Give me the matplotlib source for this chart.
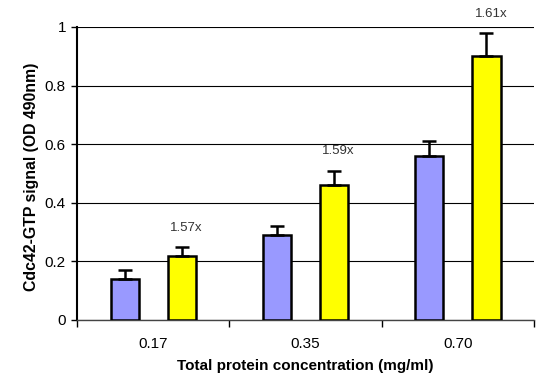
import matplotlib
matplotlib.use("Agg")
import matplotlib.pyplot as plt
import numpy as np

plt.rcParams["font.family"] = ["Liberation Sans", "DejaVu Sans"]

categories = ["0.17", "0.35", "0.70"]
control = [0.14, 0.29, 0.56]
control_err = [0.03, 0.03, 0.05]
treated = [0.22, 0.46, 0.90]
treated_err = [0.03, 0.05, 0.08]
fold = ["1.57x", "1.59x", "1.61x"]
fold_y = [0.315, 0.578, 1.045]

BLUE = "#9999ff"
YELLOW = "#ffff00"

fig = plt.figure(figsize=(5.54, 3.84), dpi=100)
fig.patch.set_facecolor("white")
ax = fig.add_axes([0.139, 0.1667, 0.825, 0.763])

x = np.arange(len(categories))
off, w = 0.1875, 0.185

ax.bar(x - off, control, w, color=BLUE, edgecolor="black", linewidth=1.8, zorder=3)
ax.bar(x + off, treated, w, color=YELLOW, edgecolor="black", linewidth=1.8, zorder=3)
ax.errorbar(x - off, control, yerr=[[0] * 3, control_err], fmt="none", ecolor="black",
            elinewidth=1.8, capsize=5, capthick=1.8, zorder=4)
ax.errorbar(x + off, treated, yerr=[[0] * 3, treated_err], fmt="none", ecolor="black",
            elinewidth=1.8, capsize=5, capthick=1.8, zorder=4)

for xi, lab, yy in zip(x, fold, fold_y):
    ax.text(xi + off + 0.03, yy, lab, ha="center", va="center", fontsize=9.5, color="#333333",
            clip_on=False)

ax.set_xlim(-0.5, 2.5)
ax.set_ylim(0, 1)
ax.set_yticks([0, 0.2, 0.4, 0.6, 0.8, 1])
ax.set_yticklabels(["0", "0.2", "0.4", "0.6", "0.8", "1"])
ax.set_xticks(x)
ax.set_xticklabels(categories)
ax.set_xticks([-0.5, 0.5, 1.5, 2.5], minor=True)
ax.tick_params(axis="x", which="major", length=0, pad=12, labelsize=11)
ax.tick_params(axis="x", which="minor", length=5, width=1, color="black")
ax.tick_params(axis="y", length=4, width=1, labelsize=11, pad=4)

ax.yaxis.grid(True, color="black", linewidth=0.8, zorder=0)
ax.set_axisbelow(True)
for s in ("top", "right"):
    ax.spines[s].set_visible(False)
ax.spines["left"].set_linewidth(1.5)
ax.spines["bottom"].set_linewidth(1.0)
ax.spines["bottom"].set_color("#444444")

ax.set_xlabel("Total protein concentration (mg/ml)", fontsize=11, fontweight="bold", labelpad=6)
ax.set_ylabel("Cdc42-GTP signal (OD 490nm)", fontsize=11.4, fontweight="bold")
ax.yaxis.set_label_coords(-0.083, 0.49)

fig.savefig("out.png", dpi=100, facecolor="white")
